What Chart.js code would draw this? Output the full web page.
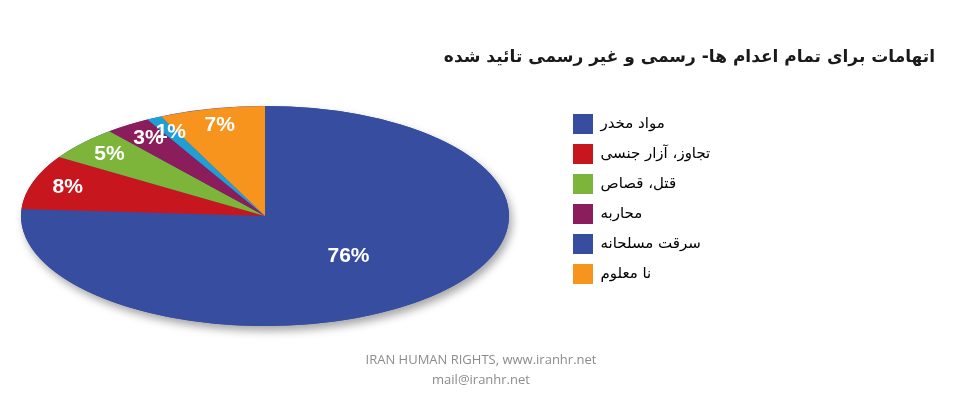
<!DOCTYPE html>
<html>
<head>
<meta charset="utf-8">
<script src="https://cdn.jsdelivr.net/npm/chart.js@4"></script>
<style>
  html, body { margin: 0; padding: 0; background: #fff; }
  #wrap { width: 960px; height: 405px; }
</style>
</head>
<body>
<div id="wrap"><canvas id="myChart" width="960" height="405"></canvas></div>
<script>
// data
var categories = ['مواد مخدر', 'تجاوز، آزار جنسی', 'قتل، قصاص', 'محاربه', 'سرقت مسلحانه', 'نا معلوم'];
var shares = [76, 8, 5, 3, 1, 7];
var sliceColors = ['#374ea0', '#c8161e', '#7db43a', '#8c1d5c', '#1f9fd6', '#f7941e'];
var legendColors = ['#374ea0', '#c8161e', '#7db43a', '#8c1d5c', '#374ea0', '#f7941e'];
var titleText = 'اتهامات برای تمام اعدام ها- رسمی و غیر رسمی تائید شده';
var footerText = ['IRAN HUMAN RIGHTS, www.iranhr.net', 'mail@iranhr.net'];

// where the flattened pie sits on the page
var CX = 265, CY = 216, RX = 244, RY = 110;

var ellipsePie = {
    id: 'ellipsePie',
    afterLayout: function(chart) {
        // put the legend next to the pie, like the original
        var lg = chart.legend;
        var w = lg.width, h = lg.height;
        lg.left = 563; lg.top = 104;
        lg.right = lg.left + w; lg.bottom = lg.top + h;
    },
    beforeDatasetsDraw: function(chart) {
        var arc = chart.getDatasetMeta(0).data[0];
        var ctx = chart.ctx;
        ctx.save();
        ctx.translate(CX, CY);
        ctx.scale(RX / arc.outerRadius, RY / arc.outerRadius);
        ctx.translate(-arc.x, -arc.y);
        // soft shadow under the disc
        ctx.save();
        ctx.shadowColor = 'rgba(0,0,0,0.35)';
        ctx.shadowBlur = 9;
        ctx.shadowOffsetX = 3;
        ctx.shadowOffsetY = 5;
        ctx.fillStyle = sliceColors[0];
        ctx.beginPath();
        ctx.arc(arc.x, arc.y, arc.outerRadius, 0, Math.PI * 2);
        ctx.fill();
        ctx.restore();
    },
    afterDatasetsDraw: function(chart) {
        var ctx = chart.ctx;
        ctx.restore();
        var meta = chart.getDatasetMeta(0);
        ctx.save();
        ctx.fillStyle = '#fff';
        ctx.font = 'bold 21px "Liberation Sans", Arial, sans-serif';
        ctx.textAlign = 'center';
        ctx.textBaseline = 'middle';
        meta.data.forEach(function(arc, i) {
            var mid = (arc.startAngle + arc.endAngle) / 2;
            var f = (arc.endAngle - arc.startAngle) > Math.PI ? 0.5 : 0.85;
            ctx.fillText(shares[i] + '%', CX + RX * f * Math.cos(mid), CY + RY * f * Math.sin(mid));
        });
        ctx.restore();
    }
};

var ctx = document.getElementById('myChart').getContext('2d');
var chart = new Chart(ctx, {
    type: 'pie',
    data: {
        labels: categories,
        datasets: [{
            data: shares,
            backgroundColor: sliceColors,
            borderWidth: 0,
            clip: false
        }]
    },
    options: {
        responsive: false,
        animation: false,
        layout: { padding: { left: 27, right: 25, top: 0, bottom: 0 } },
        plugins: {
            title: {
                display: true,
                text: titleText,
                align: 'end',
                color: '#1a1a1a',
                font: { family: '"DejaVu Sans", sans-serif', size: 17, weight: 'bold', lineHeight: 1.2 },
                padding: { top: 47, bottom: 10 }
            },
            subtitle: {
                display: true,
                position: 'bottom',
                text: footerText,
                color: '#8c8c8c',
                font: { family: '"Open Sans", sans-serif', size: 13, lineHeight: 1.5 },
                padding: { top: 0, bottom: 15 }
            },
            legend: {
                position: 'right',
                align: 'start',
                labels: {
                    boxWidth: 20,
                    boxHeight: 20,
                    padding: 10,
                    color: '#000',
                    font: { family: '"DejaVu Sans", sans-serif', size: 15 },
                    generateLabels: function(chart) {
                        return categories.map(function(t, i) {
                            return { text: t, fillStyle: legendColors[i], strokeStyle: legendColors[i], lineWidth: 0, hidden: false, index: i };
                        });
                    }
                }
            },
            tooltip: { enabled: false }
        }
    },
    plugins: [ellipsePie]
});
</script>
</body>
</html>
